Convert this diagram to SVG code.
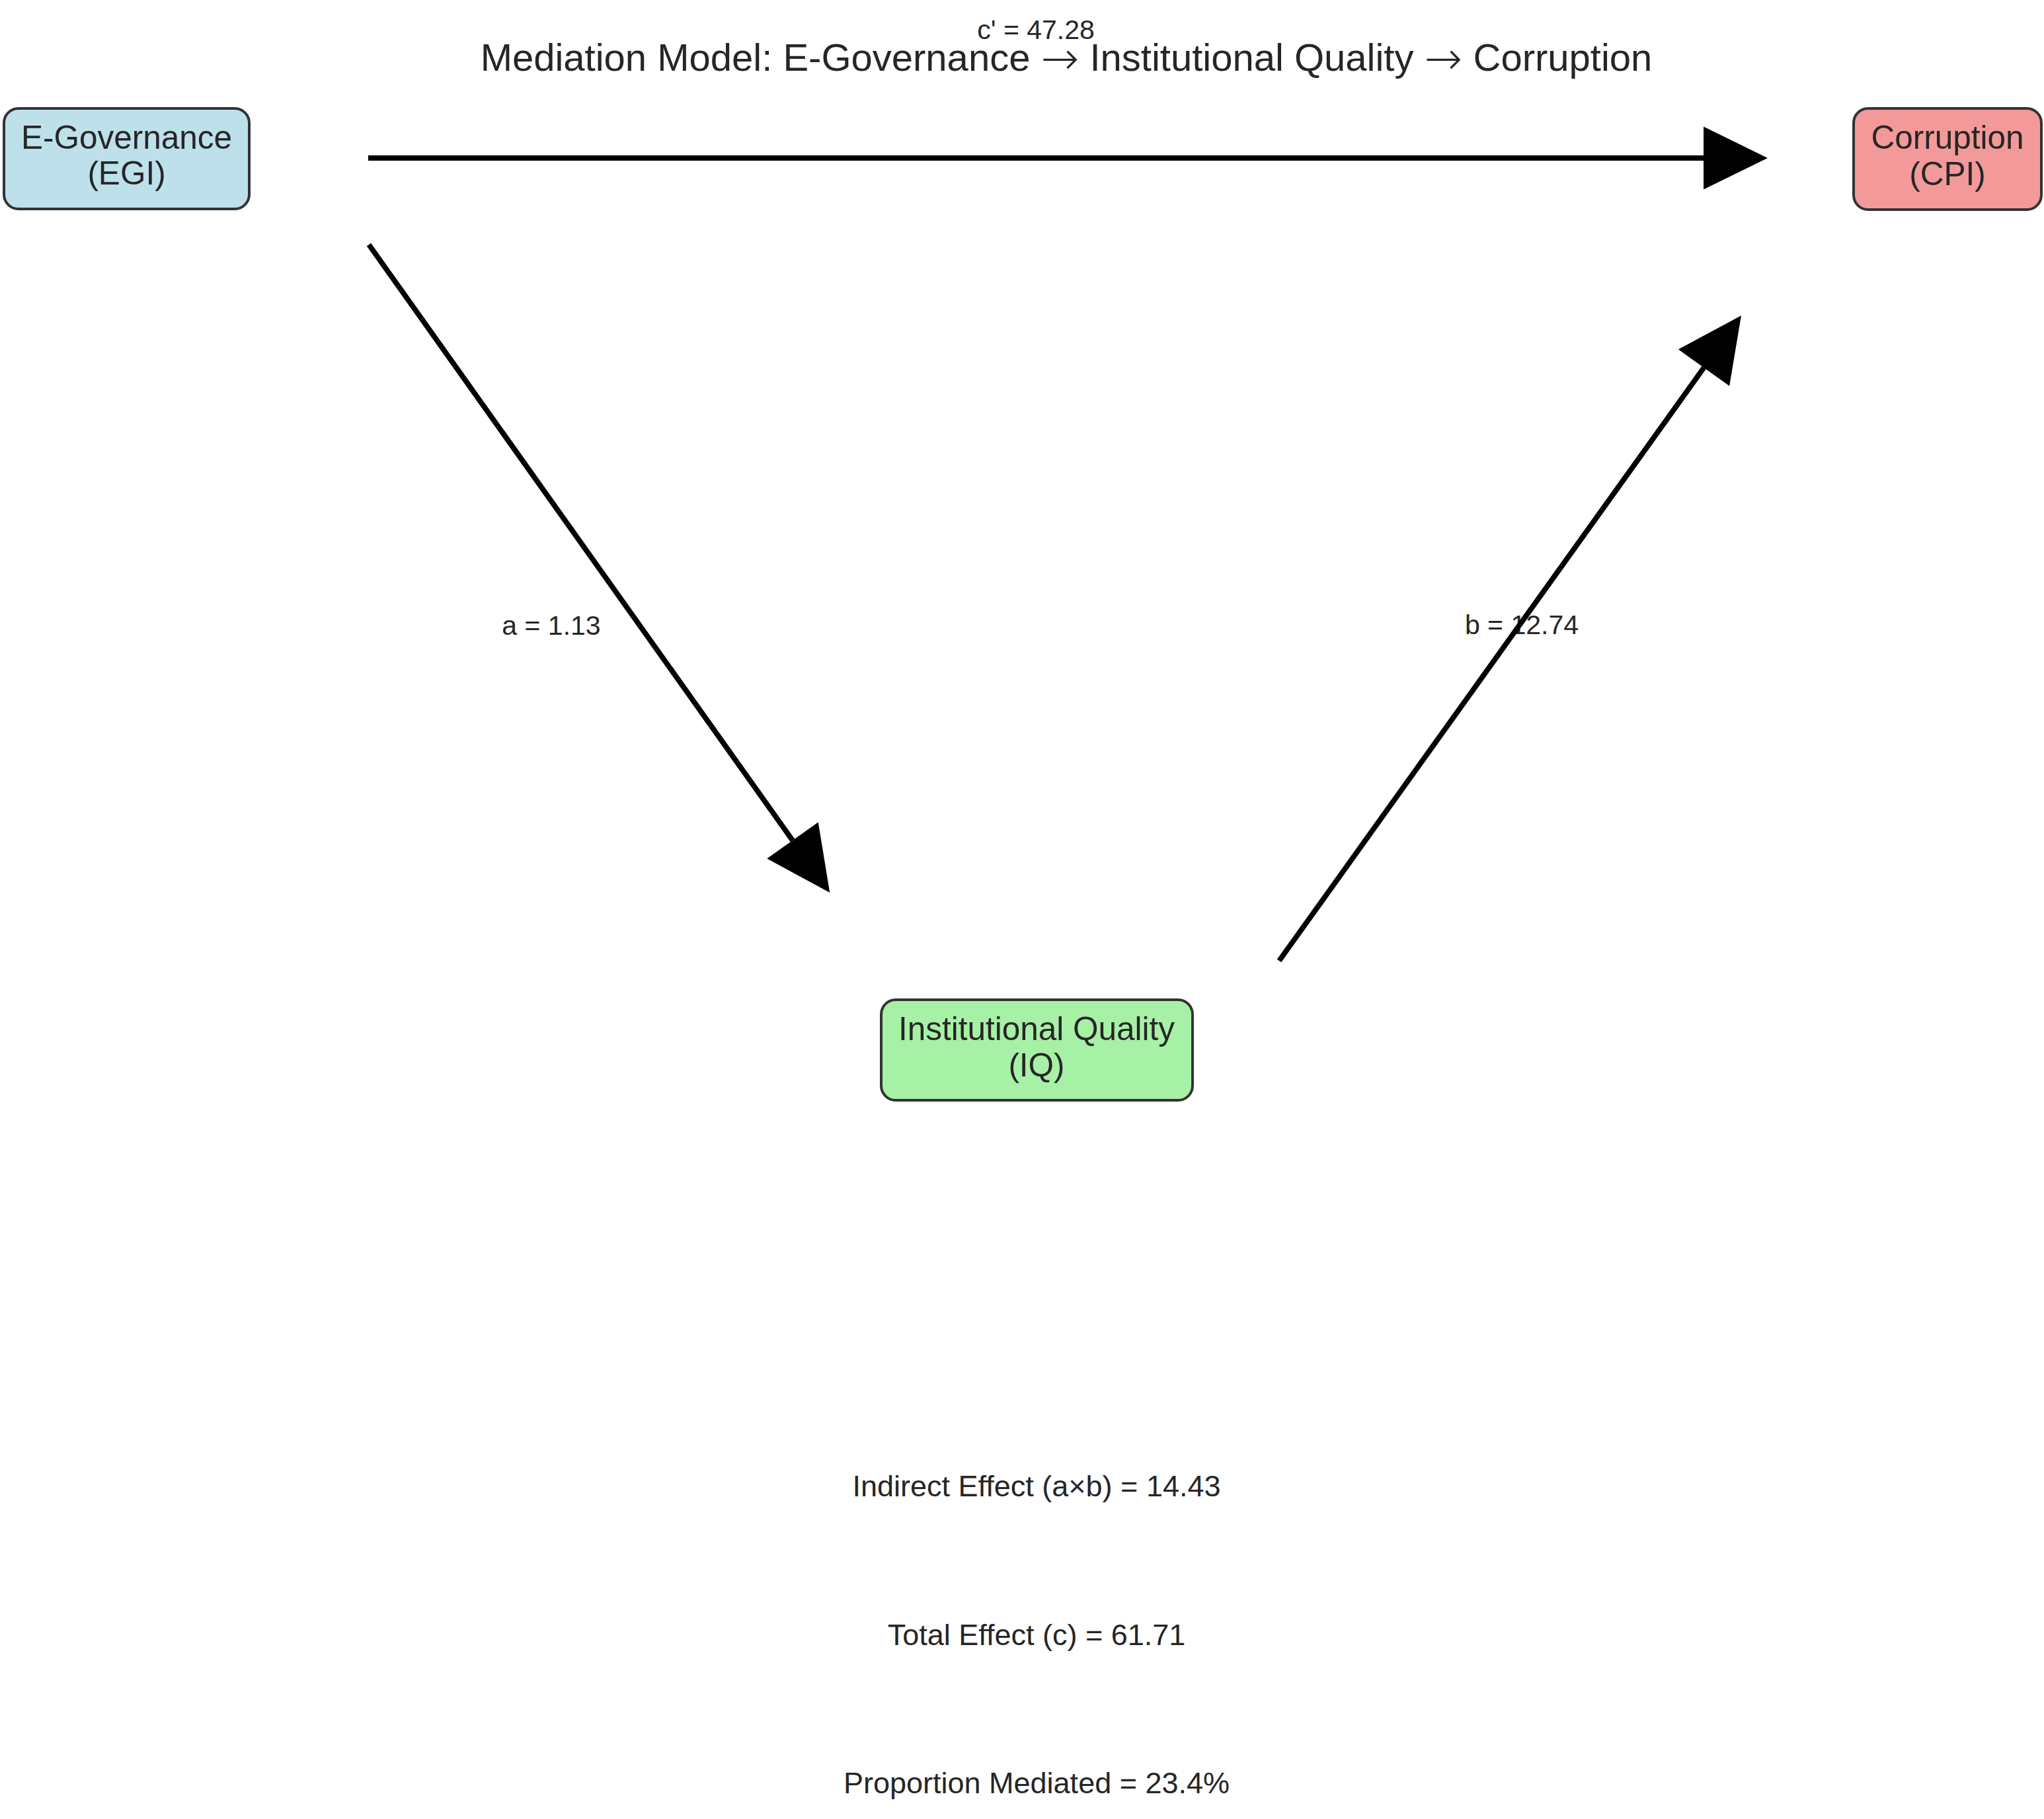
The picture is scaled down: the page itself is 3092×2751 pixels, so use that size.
<svg xmlns="http://www.w3.org/2000/svg" width="3092" height="2751" viewBox="0 0 3092 2751">
<style>
text { font-family: "Liberation Sans", Arial, sans-serif; fill: #262626; text-anchor: middle; }
.title { font-size: 58px; }
.arrow { font-family: "DejaVu Sans", sans-serif; font-size: 69px; font-weight: 300; }
.node { font-size: 49.5px; }
.edge-label { font-size: 41px; }
.stat { font-size: 45px; }
.box { stroke: #333333; stroke-width: 4; }
.conn { stroke: #000000; stroke-width: 8; fill: none; marker-end: url(#head); }
</style>
<defs>
<marker id="head" markerUnits="userSpaceOnUse" markerWidth="98" markerHeight="96" refX="0" refY="47.5" orient="auto" overflow="visible">
<path d="M0,0 L97,47.5 L0,95 Z" fill="#000000"/>
</marker>
</defs>
<rect x="0" y="0" width="3092" height="2751" fill="#ffffff"/>
<text class="edge-label" x="1567" y="59">c' = 47.28</text>
<text class="title" x="1613" y="107">Mediation Model: E-Governance <tspan class="arrow" dy="5">→</tspan><tspan dy="-5"> Institutional Quality </tspan><tspan class="arrow" dy="5">→</tspan><tspan dy="-5"> Corruption</tspan></text>
<g id="labels">
<text class="edge-label" x="834" y="960">a = 1.13</text>
<text class="edge-label" x="2302" y="959">b = 12.74</text>
</g>
<g id="connectors">
<line class="conn" x1="557" y1="239" x2="2577" y2="239"/>
<line class="conn" x1="558" y1="370" x2="1199" y2="1271"/>
<line class="conn" x1="1935" y1="1453" x2="2577.5" y2="556"/>
</g>
<g id="node-egi">
<rect class="box" x="6" y="164" width="371" height="152" rx="22" fill="#bde0eb"/>
<text class="node" x="191.5" y="225">E-Governance</text>
<text class="node" x="191.5" y="279">(EGI)</text>
</g>
<g id="node-cpi">
<rect class="box" x="2804" y="164" width="284" height="153" rx="22" fill="#f39999"/>
<text class="node" x="2946" y="225">Corruption</text>
<text class="node" x="2946" y="280">(CPI)</text>
</g>
<g id="node-iq">
<rect class="box" x="1333" y="1512" width="471" height="152" rx="22" fill="#a6f1a6"/>
<text class="node" x="1568" y="1573">Institutional Quality</text>
<text class="node" x="1568" y="1628">(IQ)</text>
</g>
<g id="stats">
<text class="stat" x="1568" y="2263">Indirect Effect (a×b) = 14.43</text>
<text class="stat" x="1568" y="2488">Total Effect (c) = 61.71</text>
<text class="stat" x="1568" y="2712">Proportion Mediated = 23.4%</text>
</g>
</svg>
